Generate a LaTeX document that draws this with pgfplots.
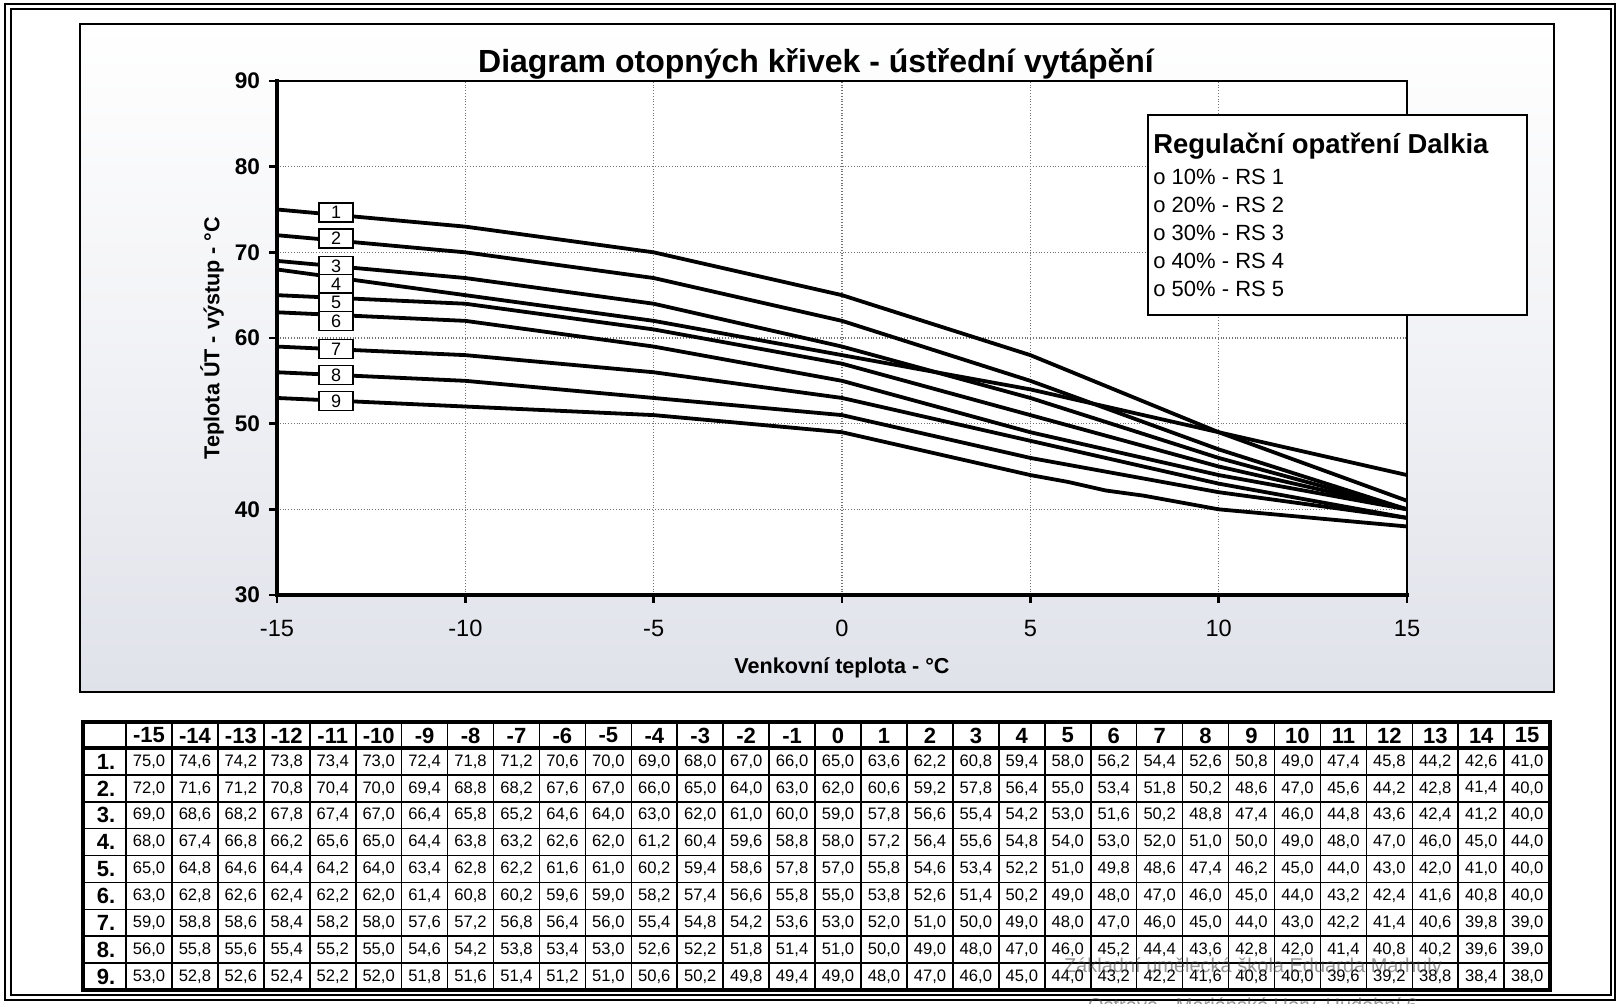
\documentclass[border=0pt]{standalone}
\usepackage{pgfplots}
\pgfplotsset{compat=1.18}
\usepackage{pgfplotstable}
\usepackage{fontspec}
\setmainfont{Liberation Sans}
\pgfkeys{/pgf/number format/assume math mode=true}

\pgfplotstableread{
x   s1   s2   s3   s4   s5   s6   s7   s8   s9
-15 75.0 72.0 69.0 68.0 65.0 63.0 59.0 56.0 53.0
-14 74.6 71.6 68.6 67.4 64.8 62.8 58.8 55.8 52.8
-13 74.2 71.2 68.2 66.8 64.6 62.6 58.6 55.6 52.6
-12 73.8 70.8 67.8 66.2 64.4 62.4 58.4 55.4 52.4
-11 73.4 70.4 67.4 65.6 64.2 62.2 58.2 55.2 52.2
-10 73.0 70.0 67.0 65.0 64.0 62.0 58.0 55.0 52.0
-9  72.4 69.4 66.4 64.4 63.4 61.4 57.6 54.6 51.8
-8  71.8 68.8 65.8 63.8 62.8 60.8 57.2 54.2 51.6
-7  71.2 68.2 65.2 63.2 62.2 60.2 56.8 53.8 51.4
-6  70.6 67.6 64.6 62.6 61.6 59.6 56.4 53.4 51.2
-5  70.0 67.0 64.0 62.0 61.0 59.0 56.0 53.0 51.0
-4  69.0 66.0 63.0 61.2 60.2 58.2 55.4 52.6 50.6
-3  68.0 65.0 62.0 60.4 59.4 57.4 54.8 52.2 50.2
-2  67.0 64.0 61.0 59.6 58.6 56.6 54.2 51.8 49.8
-1  66.0 63.0 60.0 58.8 57.8 55.8 53.6 51.4 49.4
0   65.0 62.0 59.0 58.0 57.0 55.0 53.0 51.0 49.0
1   63.6 60.6 57.8 57.2 55.8 53.8 52.0 50.0 48.0
2   62.2 59.2 56.6 56.4 54.6 52.6 51.0 49.0 47.0
3   60.8 57.8 55.4 55.6 53.4 51.4 50.0 48.0 46.0
4   59.4 56.4 54.2 54.8 52.2 50.2 49.0 47.0 45.0
5   58.0 55.0 53.0 54.0 51.0 49.0 48.0 46.0 44.0
6   56.2 53.4 51.6 53.0 49.8 48.0 47.0 45.2 43.2
7   54.4 51.8 50.2 52.0 48.6 47.0 46.0 44.4 42.2
8   52.6 50.2 48.8 51.0 47.4 46.0 45.0 43.6 41.6
9   50.8 48.6 47.4 50.0 46.2 45.0 44.0 42.8 40.8
10  49.0 47.0 46.0 49.0 45.0 44.0 43.0 42.0 40.0
11  47.4 45.6 44.8 48.0 44.0 43.2 42.2 41.4 39.6
12  45.8 44.2 43.6 47.0 43.0 42.4 41.4 40.8 39.2
13  44.2 42.8 42.4 46.0 42.0 41.6 40.6 40.2 38.8
14  42.6 41.4 41.2 45.0 41.0 40.8 39.8 39.6 38.4
15  41.0 40.0 40.0 44.0 40.0 40.0 39.0 39.0 38.0
}\curves

\definecolor{bgbot}{RGB}{224,226,234}

\begin{document}
\begin{tikzpicture}
\useasboundingbox (0,0) rectangle (809.5pt,-502pt);
\begin{scope}[x=0.5pt,y=-0.5pt]
\fill[white] (0,0) rectangle (1619,1004);
\draw[line width=0.8pt] (5,4) rectangle (1615,1000);
\draw[line width=0.8pt] (11,9) rectangle (1611,995);
\shade[top color=white, bottom color=bgbot, middle color=white!55!bgbot] (80,24) rectangle (1554,692);
\draw[line width=1pt] (80,24) rectangle (1554,692);
\coordinate (A) at (277,595);
\end{scope}

\begin{axis}[at={(A)}, anchor=south west, width=565pt, height=257pt, scale only axis,
  xmin=-15, xmax=15, ymin=30, ymax=90,
  xtick={-15,-10,...,15}, ytick={30,40,...,90},
  grid=major, major grid style={densely dotted, black!55, line width=0.6pt},
  axis line style={line width=0.9pt},
  tick align=outside, tick pos=left, major tick length=4pt,
  every tick/.style={black, line width=1.4pt},
  axis background/.style={fill=white},
  yticklabel style={font=\fontsize{11.3}{13}\selectfont\bfseries, xshift=-1pt},
  xticklabel style={font=\fontsize{11.8}{13}\selectfont, yshift=-5pt},
  xlabel={Venkovní teplota - °C}, ylabel={Teplota ÚT - výstup - °C},
  label style={font=\fontsize{10.8}{13}\selectfont\bfseries},
  xlabel style={at={(axis description cs:0.5,-0.142)}, anchor=center},
  ylabel style={at={(axis description cs:-0.0575,0.5)}, anchor=center},
  title={Diagram otopných křivek - ústřední vytápění},
  title style={at={(axis description cs:0.477,1.01)}, anchor=center, font=\fontsize{16}{19}\selectfont\bfseries},
  clip=false]
\pgfplotsinvokeforeach{1,...,9}{
  \addplot[black, line width=1.9pt, line join=round] table[x=x, y=s#1]{\curves};
}
\draw[line width=2.3pt, line cap=rect] (rel axis cs:0,1) -- (rel axis cs:0,0) -- (rel axis cs:1,0);
\tikzset{lbl/.style={draw, fill=white, line width=0.8pt, inner sep=0pt, minimum width=17pt, minimum height=9.5pt, font=\fontsize{9}{10}\selectfont}}
\node[lbl] at (axis cs:-13.43,74.65) {1};
\node[lbl] at (axis cs:-13.43,71.6) {2};
\node[lbl] at (axis cs:-13.43,68.4) {3};
\node[lbl] at (axis cs:-13.43,66.3) {4};
\node[lbl] at (axis cs:-13.43,64.15) {5};
\node[lbl] at (axis cs:-13.43,62.0) {6};
\node[lbl] at (axis cs:-13.43,58.7) {7};
\node[lbl] at (axis cs:-13.43,55.7) {8};
\node[lbl] at (axis cs:-13.43,52.65) {9};
\end{axis}

\begin{scope}[x=0.5pt,y=-0.5pt]
% legend box
\draw[line width=1pt, fill=white] (1148,115) rectangle (1527,315);
\node[anchor=west, font=\fontsize{13.7}{15}\selectfont\bfseries, inner sep=0pt] at (1153,146) {Regulační opatření Dalkia};
\foreach \p/\k [count=\i] in {10/1,20/2,30/3,40/4,50/5} {
  \node[anchor=west, font=\fontsize{11}{13}\selectfont, inner sep=0pt] at (1153,149+27.9*\i) {o \p\% - RS \k};
}
% table grid
\foreach \c in {0,...,31} {
  \pgfmathsetmacro\cx{126+45.94*\c}
  \draw[line width=0.8pt] (\cx,722) -- (\cx,990);
}
\foreach \r in {0,...,9} {
  \pgfmathsetmacro\ry{748+26.9*\r}
  \draw[line width=0.8pt] (83,\ry) -- (1550,\ry);
}
\draw[line width=1.6pt] (83,722) rectangle (1550,990);
\draw[line width=1.6pt] (83,748) -- (1550,748);
\draw[line width=1.2pt] (126,722) -- (126,990);
% header
\foreach \c in {0,...,30} {
  \pgfmathsetmacro\cx{126+45.94*(\c+0.5)}
  \pgfmathtruncatemacro\t{\c-15}
  \node[font=\fontsize{11}{13}\selectfont\bfseries, inner sep=0pt] at (\cx,735.5) {\t};
}
% body
\foreach \r in {1,...,9} {
  \pgfmathsetmacro\ry{748+26.9*(\r-0.5)}
  \node[font=\fontsize{11}{13}\selectfont\bfseries, inner sep=0pt] at (106,\ry) {\r.};
  \foreach \c in {0,...,30} {
    \pgfmathsetmacro\cx{126+45.94*(\c+0.5)}
    \pgfplotstablegetelem{\c}{s\r}\of\curves
    \node[font=\fontsize{8.3}{10}\selectfont, inner sep=0pt] at (\cx,\ry) {\pgfmathprintnumber[fixed,fixed zerofill,precision=1,use comma,assume math mode=true]{\pgfplotsretval}};
  }
}
% watermark
\node[text=black!75, opacity=0.55, font=\fontsize{10}{12}\selectfont, inner sep=0pt] at (1253,967) {Základní umělecká škola Eduarda Marhuly};
\node[text=black!75, opacity=0.55, font=\fontsize{10}{12}\selectfont, inner sep=0pt] at (1253,1007) {Ostrava - Mariánské Hory, Hudební 6};
\end{scope}
\end{tikzpicture}
\end{document}
